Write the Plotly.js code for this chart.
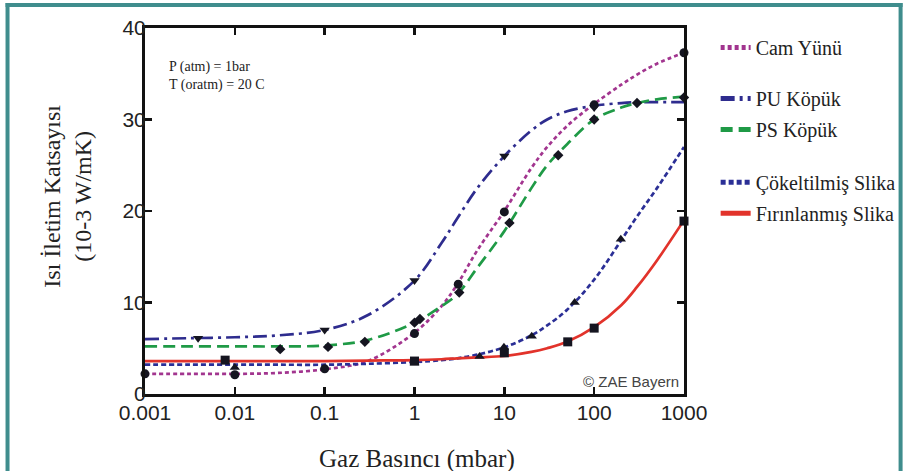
<!DOCTYPE html>
<html>
<head>
<meta charset="utf-8">
<script src="https://cdn.plot.ly/plotly-3.0.1.min.js"></script>
<style>html,body{margin:0;padding:0;background:#fff;}#chart{width:913px;height:471px;}</style>
</head>
<body>
<div id="chart"></div>
<script>
// Pressure grid (mbar) at which the fitted curves were read
const curveP = [0.001, 0.003, 0.01, 0.03, 0.1, 0.3, 1, 2, 3, 5, 10, 20, 30, 50, 100, 200, 300, 500, 1000];

// Curve values (10-3 W/mK)
const camYunuCurve = [2.2, 2.2, 2.2, 2.3, 2.7, 3.6, 6.7, 9.6, 12.0, 15.7, 20.0, 24.7, 27.0, 29.3, 31.7, 33.8, 34.9, 36.1, 37.3];
const puKopukCurve = [6.0, 6.1, 6.2, 6.4, 7.0, 8.6, 12.4, 16.5, 19.2, 22.5, 26.0, 28.8, 30.0, 30.9, 31.5, 31.8, 31.9, 31.9, 31.9];
const psKopukCurve = [5.2, 5.2, 5.2, 5.2, 5.3, 5.9, 7.8, 9.6, 10.9, 13.8, 17.8, 22.5, 25.0, 27.3, 30.0, 31.3, 31.8, 32.2, 32.5];
const cokSlikaCurve = [3.2, 3.2, 3.2, 3.2, 3.2, 3.3, 3.5, 3.7, 3.9, 4.3, 5.1, 6.4, 7.5, 9.2, 12.5, 16.8, 19.4, 22.5, 27.0];
const firSlikaCurve = [3.6, 3.6, 3.6, 3.6, 3.6, 3.65, 3.7, 3.8, 3.9, 4.0, 4.15, 4.6, 5.0, 5.7, 7.3, 9.7, 11.7, 14.6, 19.0];

// Measured points
const camYunuP = [0.001, 0.01, 0.1, 1, 3.07, 10, 100, 1000];
const camYunuV = [2.2, 2.1, 2.75, 6.6, 12.0, 19.9, 31.6, 37.3];
const puKopukP = [0.0039, 0.1, 1, 10, 100];
const puKopukV = [6.1, 7.0, 12.4, 26.0, 31.3];
const psKopukP = [0.032, 0.109, 0.28, 1.0, 1.15, 3.15, 11.4, 39.8, 100, 300, 1000];
const psKopukV = [4.9, 5.15, 5.7, 7.8, 8.2, 11.1, 18.7, 26.1, 30.0, 31.8, 32.4];
const cokSlikaP = [0.01, 1, 5.3, 9.9, 20.2, 60.7, 198];
const cokSlikaV = [2.9, 3.4, 4.1, 5.1, 6.3, 10.0, 16.9];
const firSlikaP = [0.0078, 1, 10, 50.8, 100, 1000];
const firSlikaV = [3.7, 3.6, 4.5, 5.7, 7.2, 18.9];

// Labels
const seriesNames = ["Cam Yünü", "PU Köpük", "PS Köpük", "Çökeltilmiş Slika", "Fırınlanmış Slika"];
const xTickVals = [0.001, 0.01, 0.1, 1, 10, 100, 1000];
const xTickText = ["0.001", "0.01", "0.1", "1", "10", "100", "1000"];
const yTickVals = [0, 10, 20, 30, 40];
const yTickText = ["0", "10", "20", "30", "40"];
const xTitle = "Gaz Basıncı (mbar)";
const yTitle = "Isı İletim Katsayısı<br>(10-3 W/mK)";
const noteText = "P (atm) = 1bar<br>T (oratm) = 20 C";
const creditText = "© ZAE Bayern";

const SERIF = "Liberation Serif, Times New Roman, serif";
const SANS = "Liberation Sans, Arial, sans-serif";

const colors = ["#A2358F", "#2E2C8E", "#1F9A46", "#2B2F96", "#E2332B"];
const dashes = ["4px,3px", "14px,5px,3px,5px", "12px,6px", "5px,3px", "solid"];
const legends = ["legend", "legend2", "legend2", "legend3", "legend3"];
const curves = [camYunuCurve, puKopukCurve, psKopukCurve, cokSlikaCurve, firSlikaCurve];
const ptsP = [camYunuP, puKopukP, psKopukP, cokSlikaP, firSlikaP];
const ptsV = [camYunuV, puKopukV, psKopukV, cokSlikaV, firSlikaV];
const symbols = ["circle", "triangle-down", "diamond", "triangle-up", "square"];
const msizes = [9, 9, 8, 9, 9];

const traces = [];
for (let i = 0; i < seriesNames.length; i++) {
  traces.push({
    x: curveP, y: curves[i], type: "scatter", mode: "lines",
    name: seriesNames[i], legend: legends[i], legendgroup: "g" + i,
    line: {color: colors[i], width: 2.7, dash: dashes[i], shape: "spline", smoothing: 1.0},
    hoverinfo: "skip"
  });
}
for (let i = 0; i < seriesNames.length; i++) {
  traces.push({
    x: ptsP[i], y: ptsV[i], type: "scatter", mode: "markers",
    showlegend: false, legendgroup: "g" + i,
    marker: {symbol: symbols[i], size: msizes[i], color: "#151520"},
    hoverinfo: "skip", cliponaxis: false
  });
}

// pixel -> paper helpers (plot area: x 145..690, y 28..394.5)
const L = 145, R = 690, T = 28, B = 394.5;
const px = v => (v - L) / (R - L);
const py = v => (B - v) / (B - T);

const legendBase = {
  font: {family: SERIF, size: 20, color: "#222"},
  bgcolor: "rgba(0,0,0,0)", borderwidth: 0,
  xanchor: "left", yanchor: "top", x: px(722),
  traceorder: "grouped", tracegroupgap: 2, itemsizing: "constant"
};

const axisBase = {
  showgrid: false, zeroline: false, showline: true, linecolor: "#111", linewidth: 3,
  mirror: "allticks", ticks: "inside", ticklen: 7, tickwidth: 2.5, tickcolor: "#111",
  tickfont: {family: SANS, size: 21, color: "#222"}, fixedrange: true
};

const layout = {
  width: 913, height: 471,
  margin: {l: L, r: 913 - R, t: T, b: 471 - B, pad: 0},
  paper_bgcolor: "#fff", plot_bgcolor: "#fff",
  showlegend: true,
  xaxis: Object.assign({}, axisBase, {
    type: "log", range: [-3, 3], tickmode: "array", tickvals: xTickVals, ticktext: xTickText,
    ticklabelstandoff: -2
  }),
  yaxis: Object.assign({}, axisBase, {
    range: [0, 40], tickmode: "array", tickvals: yTickVals, ticktext: yTickText,
    ticklabelstandoff: -8
  }),
  legend: Object.assign({}, legendBase, {y: py(28)}),
  legend2: Object.assign({}, legendBase, {y: py(79)}),
  legend3: Object.assign({}, legendBase, {y: py(163)}),
  annotations: [
    {xref: "paper", yref: "paper", x: px(420), y: py(460), text: xTitle, showarrow: false,
     xanchor: "center", yanchor: "middle", font: {family: SERIF, size: 25, color: "#222"}},
    {xref: "paper", yref: "paper", x: px(67), y: py(196), text: yTitle, showarrow: false,
     textangle: -90, xanchor: "center", yanchor: "middle",
     font: {family: SERIF, size: 24, color: "#222"}},
    {xref: "paper", yref: "paper", x: px(167), y: py(57), text: noteText, showarrow: false,
     xanchor: "left", yanchor: "top", align: "left",
     font: {family: SERIF, size: 14, color: "#222"}},
    {xref: "paper", yref: "paper", x: px(687), y: py(382), text: creditText, showarrow: false,
     xanchor: "right", yanchor: "middle", font: {family: SANS, size: 15, color: "#444"}}
  ],
  shapes: [
    {type: "line", xref: "paper", yref: "paper", x0: px(4), x1: px(911), y0: py(5), y1: py(5),
     line: {color: "#3F8D8D", width: 4}},
    {type: "line", xref: "paper", yref: "paper", x0: px(6), x1: px(6), y0: py(3), y1: py(475),
     line: {color: "#3F8D8D", width: 4}},
    {type: "line", xref: "paper", yref: "paper", x0: px(909), x1: px(909), y0: py(3), y1: py(475),
     line: {color: "#3F8D8D", width: 4}}
  ]
};

Plotly.newPlot("chart", traces, layout, {staticPlot: true, displayModeBar: false});
</script>
</body>
</html>
